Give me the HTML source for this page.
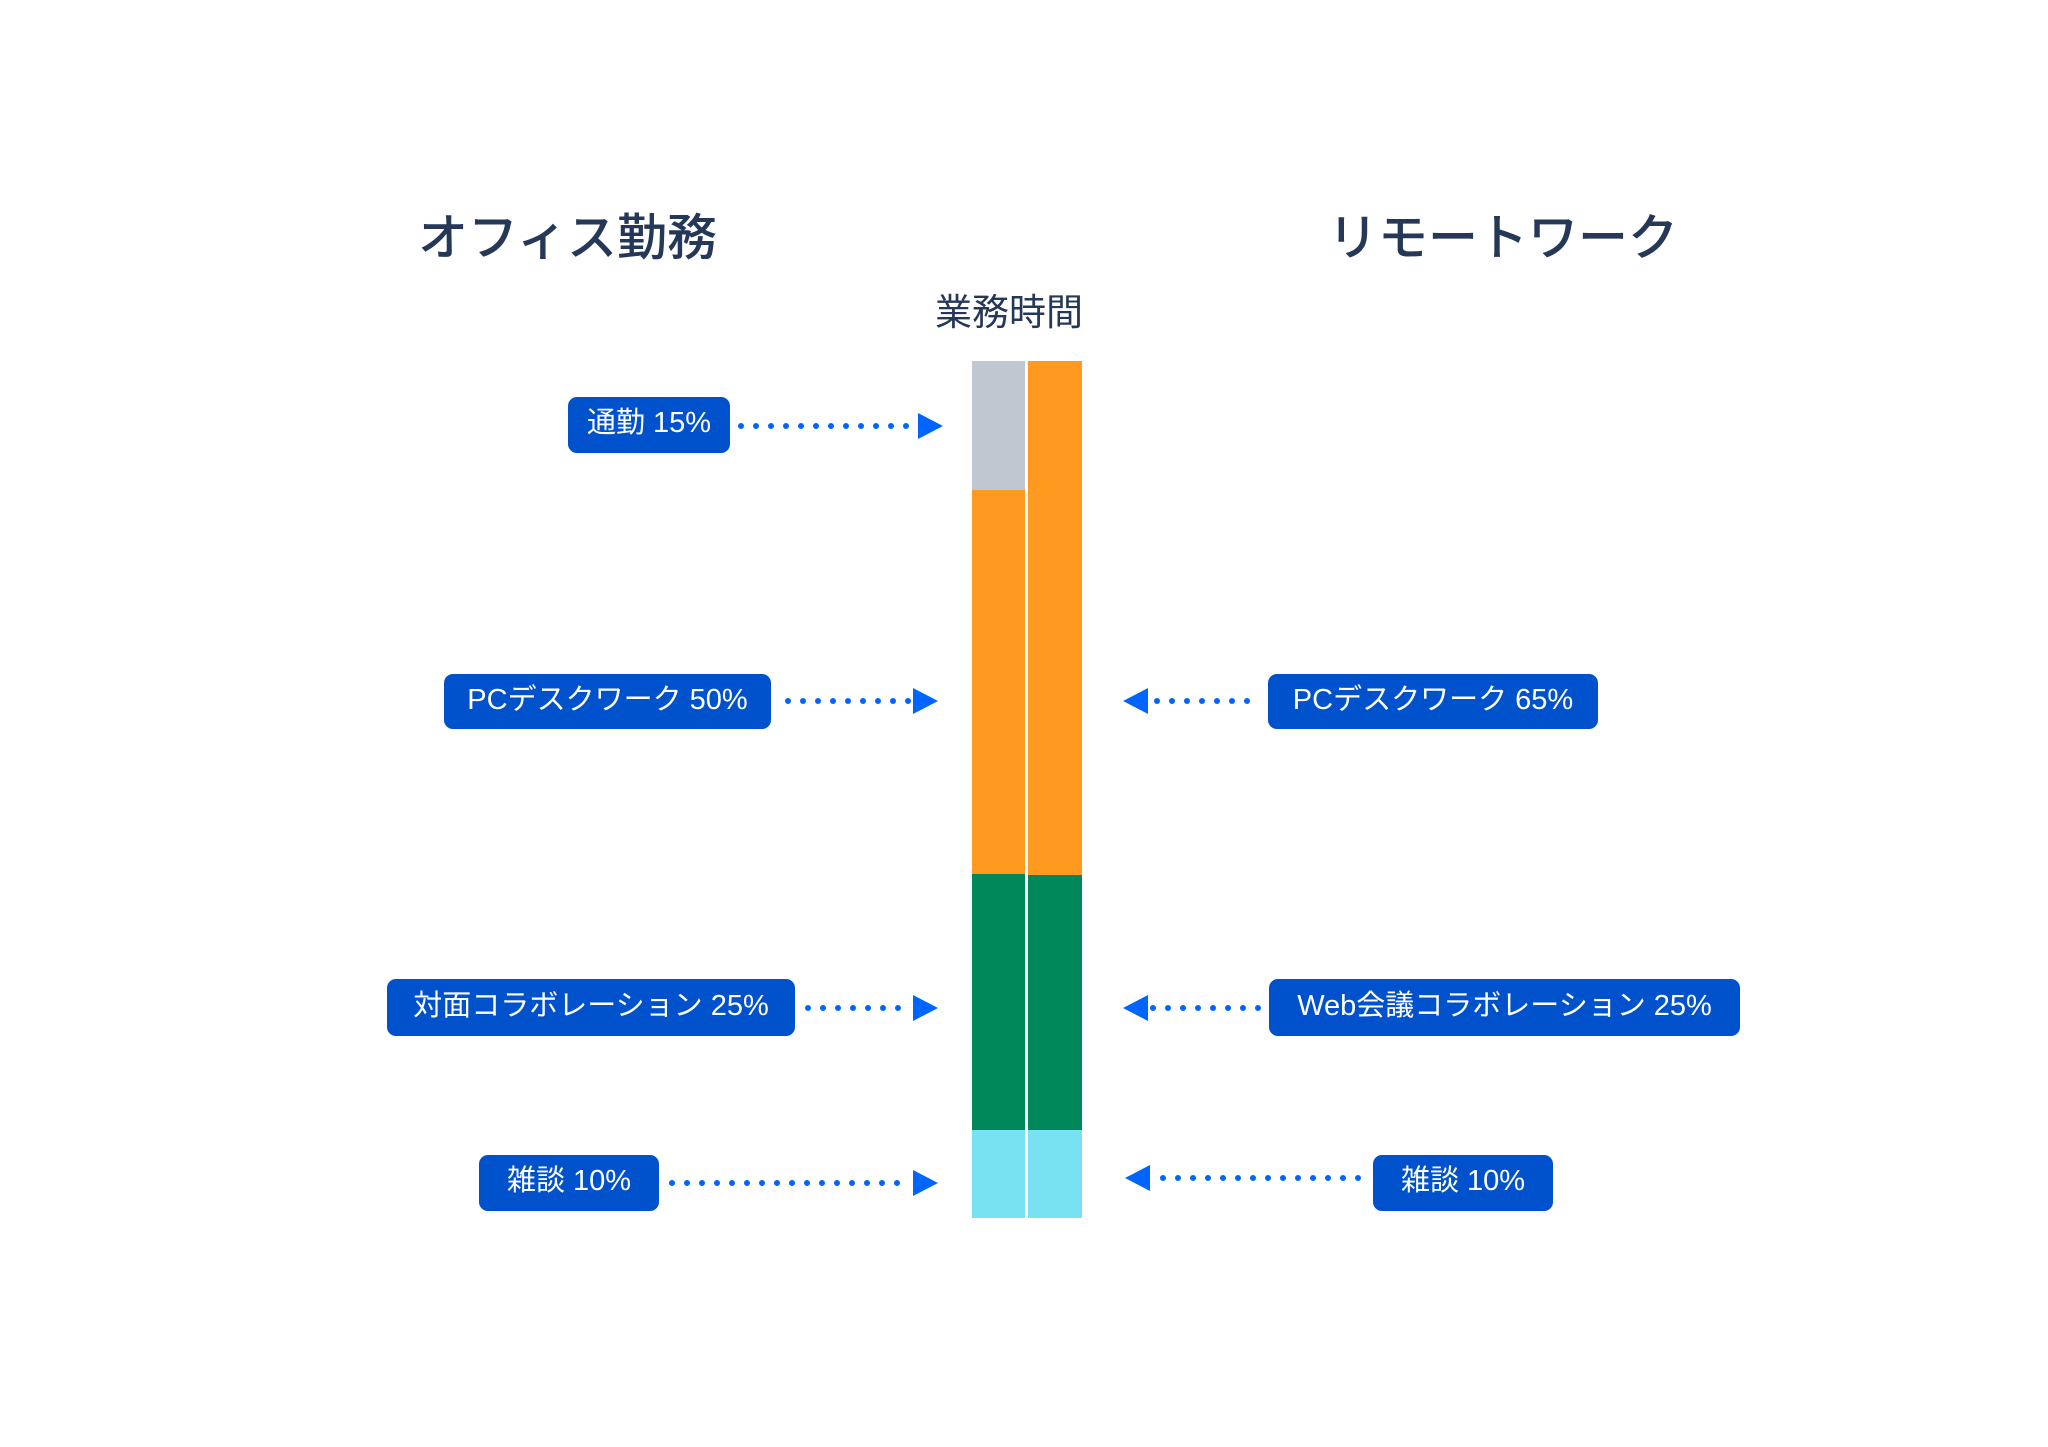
<!DOCTYPE html>
<html><head><meta charset="utf-8"><style>
body{margin:0;background:#fff;width:2048px;height:1447px;overflow:hidden;position:relative;font-family:"Liberation Sans","Noto Sans CJK JP",sans-serif}
.t{position:absolute;color:#253858;white-space:nowrap}
.b{position:absolute;background:#0052CC;color:#fff;border-radius:9px;font-size:29px;display:flex;align-items:center;justify-content:center;white-space:nowrap;box-sizing:border-box;padding-bottom:10px}
.r{position:absolute}
</style></head><body>
<div class="t" style="left:418px;top:198px;font-size:50px;font-weight:500">オフィス勤務</div>
<div class="t" style="left:1328px;top:198px;font-size:50px;font-weight:500">リモートワーク</div>
<div class="t" style="left:935px;top:282px;font-size:37px">業務時間</div>

<div class="r" style="left:972px;top:361px;width:53px;height:129px;background:#C1C7D0"></div>
<div class="r" style="left:972px;top:490px;width:53px;height:384px;background:#FF991F"></div>
<div class="r" style="left:972px;top:874px;width:53px;height:256px;background:#00875A"></div>
<div class="r" style="left:972px;top:1130px;width:53px;height:88px;background:#79E2F2"></div>
<div class="r" style="left:1028px;top:361px;width:54px;height:514px;background:#FF991F"></div>
<div class="r" style="left:1028px;top:875px;width:54px;height:255px;background:#00875A"></div>
<div class="r" style="left:1028px;top:1130px;width:54px;height:88px;background:#79E2F2"></div>

<div class="b" style="left:568px;top:397px;width:162px;height:56px">通勤 15%</div>
<div class="b" style="left:444px;top:674px;width:327px;height:55px">PCデスクワーク 50%</div>
<div class="b" style="left:387px;top:979px;width:408px;height:57px">対面コラボレーション 25%</div>
<div class="b" style="left:479px;top:1155px;width:180px;height:56px">雑談 10%</div>
<div class="b" style="left:1268px;top:674px;width:330px;height:55px">PCデスクワーク 65%</div>
<div class="b" style="left:1269px;top:979px;width:471px;height:57px">Web会議コラボレーション 25%</div>
<div class="b" style="left:1373px;top:1155px;width:180px;height:56px">雑談 10%</div>

<svg width="2048" height="1447" style="position:absolute;left:0;top:0">
<g stroke="#0065FF" stroke-width="6" stroke-linecap="round" stroke-dasharray="0 15" fill="none">
<line x1="741" y1="426" x2="915" y2="426"/>
<line x1="788" y1="701" x2="910" y2="701"/>
<line x1="808" y1="1008" x2="908" y2="1008"/>
<line x1="672" y1="1183" x2="908" y2="1183"/>
<line x1="1157" y1="701" x2="1257" y2="701"/>
<line x1="1153" y1="1008" x2="1268" y2="1008"/>
<line x1="1163" y1="1178" x2="1360" y2="1178"/>
</g>
<g fill="#0065FF">
<polygon points="918,413 943,426 918,439"/>
<polygon points="913,688 938,701 913,714"/>
<polygon points="913,995 938,1008 913,1021"/>
<polygon points="913,1170 938,1183 913,1196"/>
<polygon points="1148,688 1123,701 1148,714"/>
<polygon points="1148,995 1123,1008 1148,1021"/>
<polygon points="1150,1165 1125,1178 1150,1191"/>
</g>
</svg>
</body></html>
